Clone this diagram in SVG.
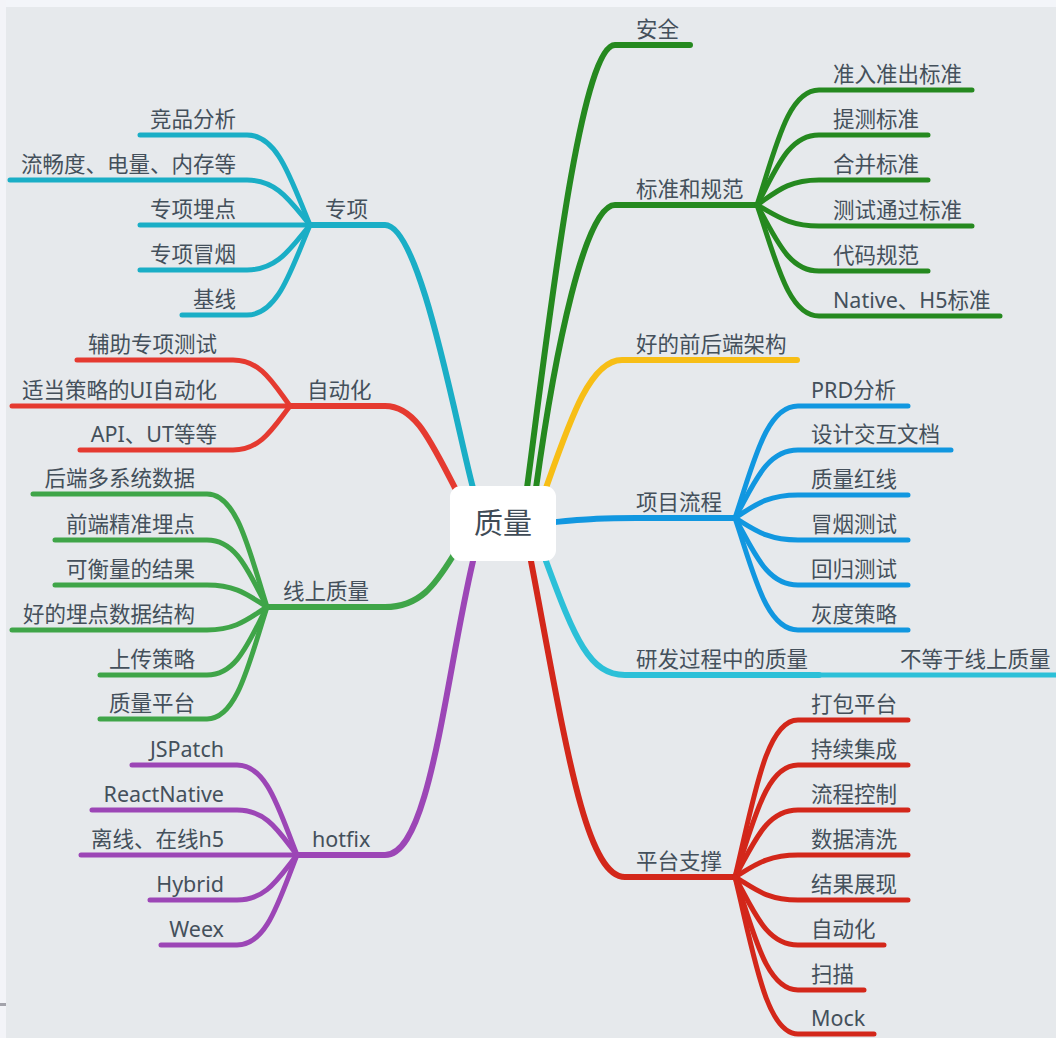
<svg xmlns="http://www.w3.org/2000/svg" width="1056" height="1038" viewBox="0 0 1056 1038">
<style>
text{font-family:"Noto Sans","Noto Sans CJK SC",sans-serif;font-size:21.5px;fill:#44505b}
.e{text-anchor:end}
path{fill:none;stroke-linecap:round;stroke-linejoin:round}
.m{stroke-width:6}
.c{stroke-width:5}
.teal{stroke:#1aaec6}.red{stroke:#e53a30}.lg{stroke:#3fa548}.pur{stroke:#9c46b6}
.dg{stroke:#25891f}.yel{stroke:#f7be16}.blu{stroke:#1197e0}.cya{stroke:#2cc0d8}.rd2{stroke:#d3271a}
</style>
<rect width="1056" height="1038" fill="#e6e9ec"/>
<rect width="1056" height="7" fill="#f3f5f9"/>
<rect width="6" height="1038" fill="#f3f4f8"/>
<rect x="0" y="1003" width="6" height="3" fill="#a3a3ab"/>
<g id="connectors">
<path class="m teal" d="M473,488 C455,420 420,225 385,225 L310,225"/>
<path class="c teal" d="M310,225 C291,180 278,135 247,135 L140,135"/>
<path class="c teal" d="M310,225 C291,202.5 278,180 247,180 L10,180"/>
<path class="c teal" d="M310,225 L140,225"/>
<path class="c teal" d="M310,225 C291,247.5 278,270 247,270 L140,270"/>
<path class="c teal" d="M310,225 C291,270 278,315 247,315 L182,315"/>
<path class="m red" d="M455,488 C430,440 415,406 385,406 L290,406"/>
<path class="c red" d="M290,406 C273,383 261,360 233,360 L77,360"/>
<path class="c red" d="M290,406 L12,406"/>
<path class="c red" d="M290,406 C273,428 261,450 233,450 L80,450"/>
<path class="m lg" d="M453,556 C435,585 420,607 385,607 L267,607"/>
<path class="c lg" d="M267,607 C249,550 237,494 207,494 L33,494"/>
<path class="c lg" d="M267,607 C249,573 237,540 207,540 L55,540"/>
<path class="c lg" d="M267,607 C249,596 237,585 207,585 L55,585"/>
<path class="c lg" d="M267,607 C249,618 237,630 207,630 L12,630"/>
<path class="c lg" d="M267,607 C249,641 237,675 207,675 L100,675"/>
<path class="c lg" d="M267,607 C249,663 237,719 207,719 L100,719"/>
<path class="m pur" d="M473,561 C445,680 430,855 385,855 L297,855"/>
<path class="c pur" d="M297,855 C279,810 267,765 237,765 L132,765"/>
<path class="c pur" d="M297,855 C279,832 267,810 237,810 L92,810"/>
<path class="c pur" d="M297,855 L81,855"/>
<path class="c pur" d="M297,855 C279,877 267,900 237,900 L150,900"/>
<path class="c pur" d="M297,855 C279,900 267,945 237,945 L161,945"/>
<path class="m dg" d="M527,488 C548,330 580,45 615,45 L690,45"/>
<path class="m dg" d="M536,488 C555,350 585,205 615,205 L757,205"/>
<path class="c dg" d="M757,205 C776,147 788,90 819,90 L972,90"/>
<path class="c dg" d="M757,205 C776,170 788,135 819,135 L928,135"/>
<path class="c dg" d="M757,205 C776,192 788,180 819,180 L928,180"/>
<path class="c dg" d="M757,205 C776,215 788,226 819,226 L972,226"/>
<path class="c dg" d="M757,205 C776,238 788,271 819,271 L928,271"/>
<path class="c dg" d="M757,205 C776,260 788,316 819,316 L1000,316"/>
<path class="m yel" d="M546,488 C570,420 590,360 622,360 L797,360"/>
<path class="m blu" d="M555,522 C590,519 600,518 636,518 L735,518"/>
<path class="c blu" d="M735,518 C754,462 766,406 798,406 L908,406"/>
<path class="c blu" d="M735,518 C754,484 766,450 798,450 L951,450"/>
<path class="c blu" d="M735,518 C754,506 766,495 798,495 L908,495"/>
<path class="c blu" d="M735,518 C754,529 766,540 798,540 L908,540"/>
<path class="c blu" d="M735,518 C754,551 766,585 798,585 L908,585"/>
<path class="c blu" d="M735,518 C754,574 766,630 798,630 L908,630"/>
<path class="m cya" d="M546,561 C575,640 590,675 625,675 L819,675"/>
<path class="c cya" d="M819,675 L1062,675"/>
<path class="m rd2" d="M531,561 C565,740 585,877 625,877 L735,877"/>
<path class="c rd2" d="M735,877 C754,798 766,720 798,720 L908,720"/>
<path class="c rd2" d="M735,877 C754,821 766,765 798,765 L908,765"/>
<path class="c rd2" d="M735,877 C754,843 766,810 798,810 L908,810"/>
<path class="c rd2" d="M735,877 C754,866 766,855 798,855 L908,855"/>
<path class="c rd2" d="M735,877 C754,888 766,900 798,900 L908,900"/>
<path class="c rd2" d="M735,877 C754,911 766,945 798,945 L884,945"/>
<path class="c rd2" d="M735,877 C754,933 766,990 798,990 L864,990"/>
<path class="c rd2" d="M735,877 C754,955 766,1034 798,1034 L874,1034"/>
</g>
<g id="root"><rect x="450" y="486" width="106" height="75" rx="11" fill="#ffffff"/><text x="503" y="534" style="font-size:29px;text-anchor:middle;fill:#3f4b56">质量</text></g>
<g id="zhuanxiang"><text x="325" y="217">专项</text></g>
<g id="zx1"><text class="e" x="236" y="127">竞品分析</text></g>
<g id="zx2"><text class="e" x="236" y="172">流畅度、电量、内存等</text></g>
<g id="zx3"><text class="e" x="236" y="217">专项埋点</text></g>
<g id="zx4"><text class="e" x="236" y="262">专项冒烟</text></g>
<g id="zx5"><text class="e" x="236" y="307">基线</text></g>
<g id="zidonghua"><text x="307" y="398">自动化</text></g>
<g id="zd1"><text class="e" x="217" y="352">辅助专项测试</text></g>
<g id="zd2"><text class="e" x="217" y="398">适当策略的UI自动化</text></g>
<g id="zd3"><text class="e" x="217" y="442">API、UT等等</text></g>
<g id="xianshang"><text x="283" y="599">线上质量</text></g>
<g id="xs1"><text class="e" x="195" y="486">后端多系统数据</text></g>
<g id="xs2"><text class="e" x="195" y="532">前端精准埋点</text></g>
<g id="xs3"><text class="e" x="195" y="577">可衡量的结果</text></g>
<g id="xs4"><text class="e" x="195" y="622">好的埋点数据结构</text></g>
<g id="xs5"><text class="e" x="195" y="667">上传策略</text></g>
<g id="xs6"><text class="e" x="195" y="711">质量平台</text></g>
<g id="hotfix"><text x="312" y="847">hotfix</text></g>
<g id="hf1"><text class="e" x="224" y="757">JSPatch</text></g>
<g id="hf2"><text class="e" x="224" y="802">ReactNative</text></g>
<g id="hf3"><text class="e" x="224" y="847">离线、在线h5</text></g>
<g id="hf4"><text class="e" x="224" y="892">Hybrid</text></g>
<g id="hf5"><text class="e" x="224" y="937">Weex</text></g>
<g id="anquan"><text x="636" y="37">安全</text></g>
<g id="biaozhun"><text x="636" y="197">标准和规范</text></g>
<g id="bz1"><text x="833" y="82">准入准出标准</text></g>
<g id="bz2"><text x="833" y="127">提测标准</text></g>
<g id="bz3"><text x="833" y="172">合并标准</text></g>
<g id="bz4"><text x="833" y="218">测试通过标准</text></g>
<g id="bz5"><text x="833" y="263">代码规范</text></g>
<g id="bz6"><text x="833" y="308">Native、H5标准</text></g>
<g id="jiagou"><text x="636" y="352">好的前后端架构</text></g>
<g id="liucheng"><text x="636" y="510">项目流程</text></g>
<g id="lc1"><text x="811" y="398">PRD分析</text></g>
<g id="lc2"><text x="811" y="442">设计交互文档</text></g>
<g id="lc3"><text x="811" y="487">质量红线</text></g>
<g id="lc4"><text x="811" y="532">冒烟测试</text></g>
<g id="lc5"><text x="811" y="577">回归测试</text></g>
<g id="lc6"><text x="811" y="622">灰度策略</text></g>
<g id="yanfa"><text x="636" y="667">研发过程中的质量</text></g>
<g id="yf1"><text x="900" y="667">不等于线上质量</text></g>
<g id="pingtai"><text x="636" y="869">平台支撑</text></g>
<g id="pt1"><text x="811" y="712">打包平台</text></g>
<g id="pt2"><text x="811" y="757">持续集成</text></g>
<g id="pt3"><text x="811" y="802">流程控制</text></g>
<g id="pt4"><text x="811" y="847">数据清洗</text></g>
<g id="pt5"><text x="811" y="892">结果展现</text></g>
<g id="pt6"><text x="811" y="937">自动化</text></g>
<g id="pt7"><text x="811" y="982">扫描</text></g>
<g id="pt8"><text x="811" y="1026">Mock</text></g>
</svg>
